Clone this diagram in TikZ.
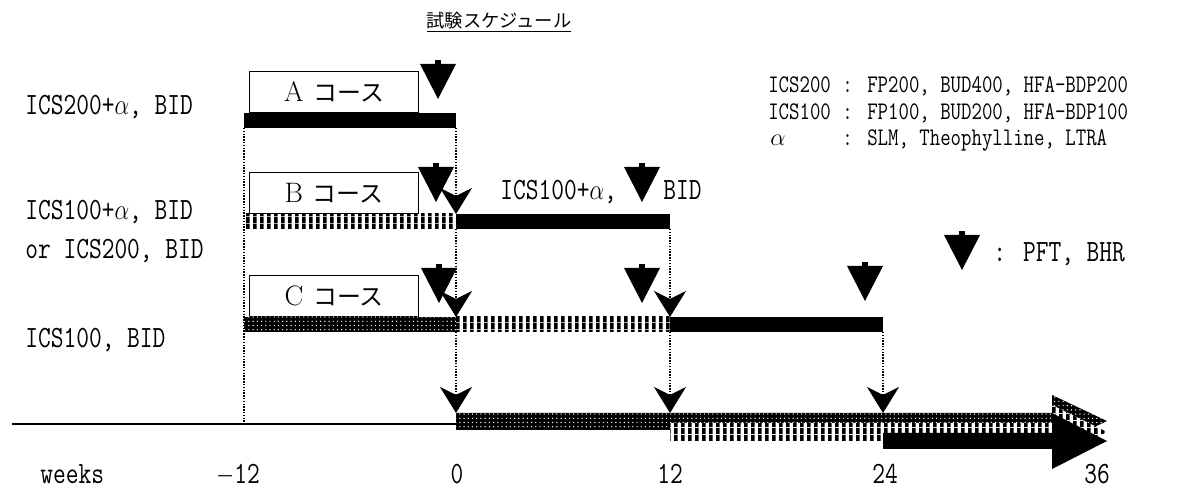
\documentclass[tikz,border=0pt]{standalone}
\usepackage{fontspec}
\usepackage{graphicx}
\usetikzlibrary{arrows.meta,patterns}
\newfontfamily\jp{Noto Sans CJK JP}
\newcommand{\nar}[1]{\scalebox{0.8}[1]{#1}}
\pgfdeclarepatternformonly{vstripes}{\pgfpointorigin}{\pgfpoint{5pt}{5pt}}{\pgfpoint{5pt}{5pt}}{%
  \pgfpathrectangle{\pgfpointorigin}{\pgfpoint{3pt}{5pt}}\pgfusepath{fill}}
\tikzset{
  lbl/.style={font=\ttfamily\fontsize{22}{26}\selectfont,inner sep=0pt,anchor=base west},
  leg/.style={font=\ttfamily\fontsize{18}{22}\selectfont,inner sep=0pt,anchor=base west},
  wk/.style={font=\ttfamily\fontsize{22}{26}\selectfont,inner sep=0pt,anchor=base},
  course/.style={draw,line width=0.8pt,anchor=south west,minimum width=4.225cm,minimum height=1.025cm,inner sep=0pt,font=\rmfamily\fontsize{20}{24}\selectfont},
  barblack/.style={fill=black},
  barstripe/.style={fill=white,postaction={pattern=vstripes}},
  barcheck/.style={fill=black,postaction={pattern=dots,pattern color=white}},
  vdot/.style={line width=0.9pt,dash pattern=on 1pt off 1pt},
  chev/.style={vdot,-{Stealth[length=0.65cm,width=0.8cm,inset=0.2cm]}},
  pft/.pic={\fill (-3,0) rectangle (3,5); \fill (-18,4) -- (18,4) -- (0,39) -- cycle;},
}
\newcommand{\cjk}[1]{{\jp\fontsize{17}{20}\selectfont #1}}

\begin{document}
\begin{tikzpicture}[x=0.025cm,y=-0.025cm]
  \useasboundingbox (0,0) rectangle (1177,490);
  % title
  \node[font=\jp\fontsize{13}{16}\selectfont] (title) at (499,22) {\underline{試験スケジュール}};

  % legend
  \node[leg] (l1n) at (768,93) {\nar{ICS200}};
  \node[leg] (l1c) at (842,93) {\nar{:}};
  \node[leg] (l1v) at (867,93) {\nar{FP200, BUD400, HFA-BDP200}};
  \node[leg] (l2n) at (768,120) {\nar{ICS100}};
  \node[leg] (l2c) at (842,120) {\nar{:}};
  \node[leg] (l2v) at (867,120) {\nar{FP100, BUD200, HFA-BDP100}};
  \node[leg] (l3n) at (770,146) {$\alpha$};
  \node[leg] (l3c) at (842,146) {\nar{:}};
  \node[leg] (l3v) at (867,146) {\nar{SLM, Theophylline, LTRA}};
  \pic at (962,231) {pft};
  \node[lbl] (lpft) at (993,262) {\nar{: PFT, BHR}};

  % row labels
  \node[lbl] (ra) at (25,115) {\nar{ICS200+$\alpha$, BID}};
  \node[lbl] (rb) at (25,220) {\nar{ICS100+$\alpha$, BID}};
  \node[lbl] (rb2) at (25,259) {\nar{or ICS200, BID}};
  \node[lbl] (rc) at (25,348) {\nar{ICS100, BID}};
  \node[lbl] (rb3) at (500,200) {\nar{ICS100+$\alpha$,}};
  \node[lbl] (rb4) at (663,200) {\nar{BID}};

  % course boxes
  \node[course] (boxA) at (249,113) {A\hspace{0.35em}\cjk{コース}};
  \node[course] (boxB) at (249,214) {B\hspace{0.35em}\cjk{コース}};
  \node[course] (boxC) at (249,317) {C\hspace{0.35em}\cjk{コース}};

  % bars
  \path[barblack] (244,113) rectangle (456,128);
  \path[barstripe] (244,214) rectangle (456,229);
  \path[barblack] (456,214) rectangle (670,229);
  \path[barcheck] (244,317) rectangle (456,332);
  \path[barstripe] (456,317) rectangle (670,332);
  \path[barblack] (670,317) rectangle (883,332);

  % time axis
  \coordinate (ax) at (12,424);
  \coordinate (ax0) at (456,424);
  \draw[line width=1pt] (ax) -- (ax0);
  \path[barcheck] (456,413) -- (1052,413) -- (1052,395) -- (1107,421) -- (1052,447) -- (1052,430) -- (456,430) -- cycle;
  \path[barstripe] (670,423) -- (1052,423) -- (1052,405) -- (1107,432) -- (1052,459) -- (1052,441) -- (670,441) -- cycle;
  \path[barblack] (883,433) -- (1052,433) -- (1052,413) -- (1107,441) -- (1052,469) -- (1052,449) -- (883,449) -- cycle;

  % bar ends
  \coordinate (aL) at (244,128);
  \coordinate (xL) at (244,424);
  \coordinate (aR) at (456,128);
  \coordinate (bRt) at (456,214);
  \coordinate (bM) at (456,229);
  \coordinate (cMt) at (456,317);
  \coordinate (cM) at (456,332);
  \coordinate (x0) at (456,413);
  \coordinate (bR) at (670,229);
  \coordinate (cRt) at (670,317);
  \coordinate (cR) at (670,332);
  \coordinate (x12) at (670,413);
  \coordinate (cE) at (883,332);
  \coordinate (x24) at (883,413);
  \draw[vdot] (aL) -- (xL);
  \draw[chev] (aR) -- (bRt);
  \draw[chev] (bM) -- (cMt);
  \draw[chev] (cM) -- (x0);
  \draw[chev] (bR) -- (cRt);
  \draw[chev] (cR) -- (x12);
  \draw[chev] (cE) -- (x24);

  % PFT, BHR
  \pic at (438,60) {pft};
  \pic at (436,163) {pft};
  \pic at (642,163) {pft};
  \pic at (439,264) {pft};
  \pic at (642,264) {pft};
  \pic at (865,262) {pft};

  % weeks
  \node[lbl] (wks) at (40,484) {\nar{weeks}};
  \node[wk] (wm12) at (238,484) {\nar{$-$12}};
  \node[wk] (w0) at (457,484) {\nar{0}};
  \node[wk] (w12) at (670,484) {\nar{12}};
  \node[wk] (w24) at (885,484) {\nar{24}};
  \node[wk] (w36) at (1097,484) {\nar{36}};
\end{tikzpicture}
\end{document}
